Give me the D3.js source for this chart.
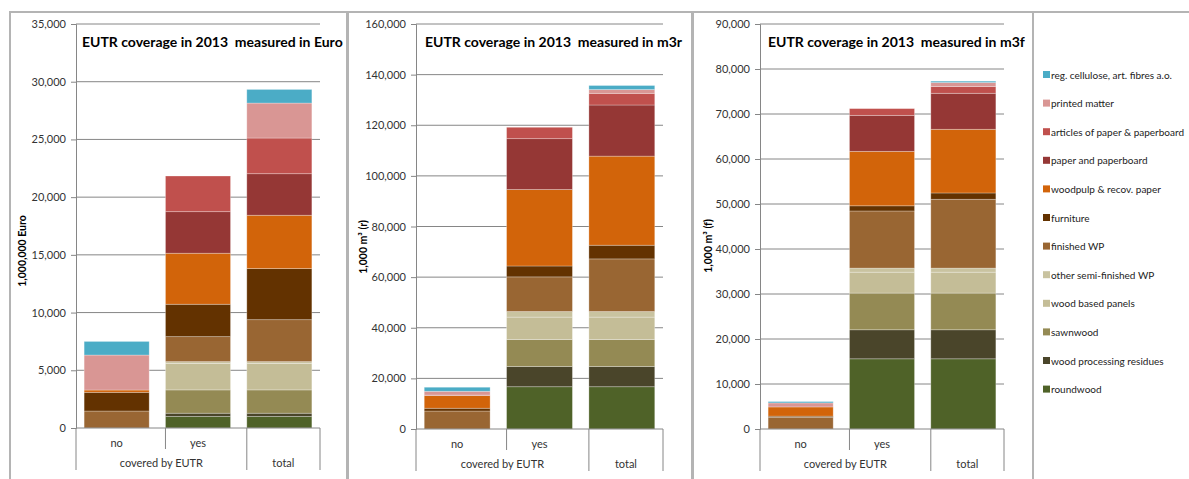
<!DOCTYPE html>
<html>
<head>
<meta charset="utf-8">
<style>
  body { margin: 0; background: #fff; }
  svg text { font-family: Lato, "Open Sans", sans-serif; }
</style>
</head>
<body>
<div id="chart"></div>
<script src="https://d3js.org/d3.v7.min.js"></script>
<script>
  // series from bottom of the stack to the top
  const seriesNames = [
    "roundwood", "wood processing residues", "sawnwood", "wood based panels",
    "other semi-finished WP", "finished WP", "furniture", "woodpulp & recov. paper",
    "paper and paperboard", "articles of paper & paperboard", "printed matter",
    "reg. cellulose, art. fibres a.o."
  ];
  const seriesColors = [
    "#4f6228", "#4a452a", "#948a54", "#c4bd97",
    "#c9c3a0", "#996633", "#633200", "#d2640a",
    "#953735", "#c0504d", "#d99694", "#4bacc6"
  ];
  const categories = ["no", "yes", "total"];

  // 1,000,000 Euro
  const euroNo    = [0, 0, 0, 0, 0, 1470, 1620, 200, 0, 0, 3030, 1180];
  const euroYes   = [1000, 280, 2020, 2300, 150, 2165, 2806, 4420, 3600, 3090, 0, 0];
  const euroTotal = [1000, 280, 2020, 2300, 150, 3635, 4426, 4620, 3600, 3090, 3030, 1180];

  // 1,000 m3 (r)
  const m3rNo    = [0, 0, 0, 0, 0, 7100, 1100, 5000, 100, 100, 1500, 1600];
  const m3rYes   = [16700, 8000, 10650, 8850, 2200, 13700, 4300, 30200, 20100, 4500, 0, 0];
  const m3rTotal = [16700, 8000, 10650, 8850, 2200, 20800, 5400, 35200, 20200, 4600, 1500, 1600];

  // 1,000 m3 (f)
  const m3fNo    = [0, 0, 0, 0, 0, 2600, 250, 2050, 0, 0, 900, 300];
  const m3fYes   = [15600, 6450, 8150, 4650, 900, 12700, 1150, 12100, 8000, 1500, 0, 0];
  const m3fTotal = [15600, 6450, 8150, 4650, 900, 15300, 1400, 14150, 8000, 1500, 900, 300];

  const panels = [
    { title: "EUTR coverage in 2013  measured in Euro", yTitle: "1,000,000 Euro",
      values: [euroNo, euroYes, euroTotal], max: 35000, step: 5000,
      box: [10, 347], plot: [76, 320], yBottom: 428, titleX: 82, yTitleX: 22, yTitleY: 251 },
    { title: "EUTR coverage in 2013  measured in m3r", yTitle: "1,000 m\u00b3 (r)",
      values: [m3rNo, m3rYes, m3rTotal], max: 160000, step: 20000,
      box: [348, 692], plot: [416, 663], yBottom: 429, titleX: 425, yTitleX: 363, yTitleY: 247 },
    { title: "EUTR coverage in 2013  measured in m3f", yTitle: "1,000 m\u00b3 (f)",
      values: [m3fNo, m3fYes, m3fTotal], max: 90000, step: 10000,
      box: [693, 1033], plot: [760, 1004], yBottom: 429, titleX: 768, yTitleX: 708, yTitleY: 246 }
  ];

  const width = 1189, height = 479;
  const svg = d3.select("#chart").append("svg")
    .attr("width", width).attr("height", height);

  const borderColor = "#b4b4b4";
  const axisColor = "#868686";
  const fmt = d3.format(",");

  panels.forEach((p) => {
    // panel frame
    svg.append("rect")
      .attr("x", p.box[0]).attr("y", 12)
      .attr("width", p.box[1] - p.box[0]).attr("height", 480)
      .attr("fill", "none").attr("stroke", borderColor).attr("stroke-width", 2);

    const y = d3.scaleLinear().domain([0, p.max]).range([p.yBottom, 24]);
    const x = d3.scaleBand().domain(categories).range(p.plot)
      .paddingInner(0.2).paddingOuter(0.1);
    const ticks = d3.range(0, p.max + 1, p.step);

    const g = svg.append("g");

    // gridlines
    g.append("g").selectAll("line").data(ticks.slice(1)).enter().append("line")
      .attr("x1", p.plot[0]).attr("x2", p.plot[1])
      .attr("y1", (d) => y(d)).attr("y2", (d) => y(d))
      .attr("stroke", axisColor).attr("stroke-width", 1);

    // stacked bars
    const stack = d3.stack().keys(d3.range(seriesNames.length))
      .value((row, k) => row[k]);
    const layers = stack(p.values);

    g.append("g").selectAll("g").data(layers).enter().append("g")
      .attr("fill", (d, i) => seriesColors[i])
      .selectAll("rect").data((d) => d.map((s, j) => ({ s, cat: categories[j] })))
      .enter().filter((d) => d.s[1] - d.s[0] > 0).append("rect")
      .attr("x", (d) => x(d.cat))
      .attr("width", x.bandwidth())
      .attr("y", (d) => y(d.s[1]))
      .attr("height", (d) => y(d.s[0]) - y(d.s[1]))
      .attr("stroke", "#fff").attr("stroke-opacity", 0.35).attr("stroke-width", 0.8);

    // y axis
    const yAxis = g.append("g")
      .attr("transform", `translate(${p.plot[0]},0)`)
      .call(d3.axisLeft(y).tickValues(ticks).tickFormat(fmt).tickSize(5).tickPadding(5));
    yAxis.select(".domain").attr("stroke", axisColor);
    yAxis.selectAll(".tick line").attr("stroke", axisColor);
    yAxis.selectAll(".tick text").attr("font-size", 11).attr("fill", "#333")
      .style("font-family", "Lato, sans-serif");

    // category axis
    g.append("line")
      .attr("x1", p.plot[0]).attr("x2", p.plot[1])
      .attr("y1", p.yBottom).attr("y2", p.yBottom)
      .attr("stroke", axisColor);
    const step = x.step();
    const bounds = [p.plot[0], p.plot[0] + step * 1.1, p.plot[0] + step * 2.1, p.plot[1]];
    g.selectAll(".sep").data(bounds).enter().append("line")
      .attr("x1", (d) => d).attr("x2", (d) => d)
      .attr("y1", p.yBottom)
      .attr("y2", (d, i) => p.yBottom + (i === 1 ? 21 : 42))
      .attr("stroke", axisColor);

    g.selectAll(".cat").data(categories.slice(0, 2)).enter().append("text")
      .attr("x", (d) => x(d) + x.bandwidth() / 2)
      .attr("y", p.yBottom + 19)
      .attr("text-anchor", "middle").attr("font-size", 11).attr("fill", "#333")
      .text((d) => d);
    g.append("text")
      .attr("x", (bounds[0] + bounds[2]) / 2).attr("y", p.yBottom + 39)
      .attr("text-anchor", "middle").attr("font-size", 11).attr("fill", "#333")
      .text("covered by EUTR");
    g.append("text")
      .attr("x", (bounds[2] + bounds[3]) / 2).attr("y", p.yBottom + 39)
      .attr("text-anchor", "middle").attr("font-size", 11).attr("fill", "#333")
      .text("total");

    // titles
    g.append("text")
      .attr("x", p.titleX).attr("y", 47)
      .attr("font-size", 14).attr("font-weight", "bold").attr("fill", "#000")
      .style("white-space", "pre")
      .text(p.title);
    g.append("text")
      .attr("transform", `translate(${p.yTitleX},${p.yTitleY}) rotate(-90)`)
      .attr("text-anchor", "middle").attr("dy", "0.35em")
      .attr("font-size", 10.5).attr("font-weight", "bold").attr("fill", "#000")
      .text(p.yTitle);
  });

  // legend panel
  svg.append("rect")
    .attr("x", 1033).attr("y", 12).attr("width", 200).attr("height", 480)
    .attr("fill", "none").attr("stroke", borderColor).attr("stroke-width", 2);

  const legendItems = seriesNames.map((n, i) => ({ n, c: seriesColors[i] })).reverse();
  const legend = svg.append("g").selectAll("g").data(legendItems).enter().append("g")
    .attr("transform", (d, i) => `translate(1043,${75 + i * 28.6})`);
  legend.append("rect")
    .attr("x", 0).attr("y", -4).attr("width", 7).attr("height", 7)
    .attr("fill", (d) => d.c);
  legend.append("text")
    .attr("x", 8).attr("y", 0).attr("dy", "0.35em")
    .attr("font-size", 10).attr("fill", "#222")
    .text((d) => d.n);
</script>
</body>
</html>
